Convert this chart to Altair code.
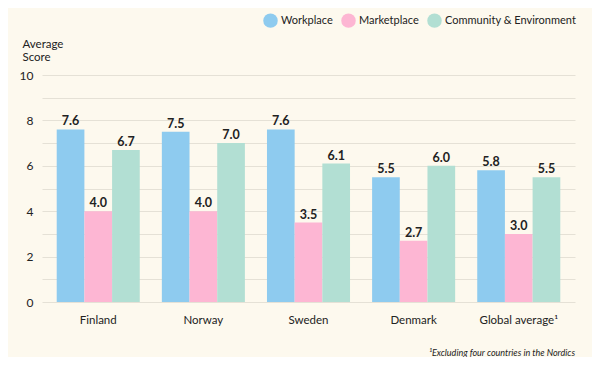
import altair as alt
import pandas as pd

countries = ["Finland", "Norway", "Sweden", "Denmark", "Global average¹"]
categories = ["Workplace", "Marketplace", "Community & Environment"]
workplace = [7.6, 7.5, 7.6, 5.5, 5.8]
marketplace = [4.0, 4.0, 3.5, 2.7, 3.0]
community = [6.7, 7.0, 6.1, 6.0, 5.5]
colors = ["#8ecbef", "#fdb6d3", "#b2dfd3"]
footnote = "¹Excluding four countries in the Nordics"

rows = []
for i, c in enumerate(countries):
    for cat, vals in zip(categories, [workplace, marketplace, community]):
        rows.append({"country": c, "category": cat, "score": vals[i]})
df = pd.DataFrame(rows)

FONT = "Lato"
TXT = "#222222"

x = alt.X("country:N", sort=countries, title=None,
          scale=alt.Scale(paddingInner=0.21, paddingOuter=0.14),
          axis=alt.Axis(labelAngle=0, domain=False, ticks=False, labelPadding=12,
                        labelFontSize=11.5, labelColor=TXT, labelFont=FONT))
xoff = alt.XOffset("category:N", sort=categories)
y = alt.Y("score:Q", scale=alt.Scale(domain=[0, 10]),
          axis=alt.Axis(values=list(range(0, 11)),
                        labelExpr="datum.value % 2 == 0 ? datum.label : ''",
                        title=["Average", "Score"], titleAngle=0, titleX=-20, titleY=-37,
                        titleAlign="left", titleBaseline="top", titleFontWeight="normal",
                        titleFontSize=11.5, titleColor=TXT, titleFont=FONT,
                        domain=False, ticks=False, labelPadding=9, labelFontSize=12,
                        labelColor=TXT, labelFont=FONT, gridColor="#e5e1d6", gridWidth=1))
color = alt.Color("category:N", sort=categories,
                  scale=alt.Scale(domain=categories, range=colors),
                  legend=alt.Legend(orient="none", legendX=221, legendY=-62, direction="horizontal",
                                    title=None, symbolType="circle", symbolSize=210,
                                    symbolStrokeWidth=0, labelFontSize=11, labelColor=TXT,
                                    labelFont=FONT, columnPadding=8, labelOffset=3))

base = alt.Chart(df).encode(x=x, xOffset=xoff, y=y)
bars = base.mark_bar().encode(color=color)
labels = base.mark_text(dy=-8, fontSize=12.5, fontWeight="bold", color=TXT, font=FONT).encode(
    text=alt.Text("score:Q", format=".1f"))
foot = alt.Chart(pd.DataFrame({"t": [footnote]})).mark_text(
    align="right", baseline="middle", fontSize=9, fontStyle="italic", color=TXT, font=FONT
).encode(x=alt.value(533), y=alt.value(278), text="t:N")

chart = alt.layer(bars, labels, foot).properties(
    width=533, height=227,
    autosize=alt.AutoSizeParams(type="none"),
    padding={"left": 34, "top": 67, "right": 17, "bottom": 55},
    background="#fdf9ee",
).configure_view(stroke=None)

chart.save("out.html", embed_options={"renderer": "svg", "actions": False})
